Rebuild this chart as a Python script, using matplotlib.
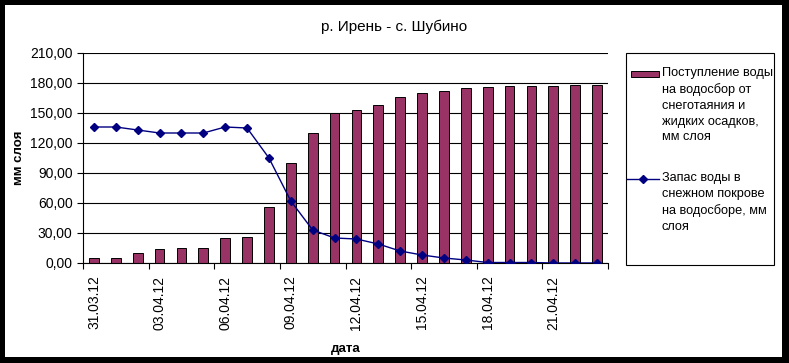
import matplotlib.pyplot as plt
from matplotlib.patches import Rectangle
from matplotlib.lines import Line2D
from matplotlib.ticker import FuncFormatter

# data
dates = ['31.03.12', '01.04.12', '02.04.12', '03.04.12', '04.04.12', '05.04.12',
         '06.04.12', '07.04.12', '08.04.12', '09.04.12', '10.04.12', '11.04.12',
         '12.04.12', '13.04.12', '14.04.12', '15.04.12', '16.04.12', '17.04.12',
         '18.04.12', '19.04.12', '20.04.12', '21.04.12', '22.04.12', '23.04.12']
inflow = [5, 5, 10, 14, 15, 15, 25, 26, 56, 100, 130, 150,
          153, 158, 166, 170, 172, 175, 176, 177, 177, 177, 178, 178]
snow = [136, 136, 133, 130, 130, 130, 136, 135, 105, 62, 33, 25,
        24, 19, 12, 8, 5, 3, 0.5, 0.5, 0.5, 0, 0, 0]

bar_color = '#993366'
line_color = '#000080'
plt.rcParams['font.family'] = ['Liberation Sans', 'DejaVu Sans']

W, H = 789, 363
fig = plt.figure(figsize=(W / 100, H / 100), dpi=100)
fig.patch.set_facecolor('black')
# white chart area inside the black frame
fig.patches.append(Rectangle((5 / W, 6 / H), 777 / W, 352 / H, transform=fig.transFigure,
                             facecolor='white', edgecolor='none', zorder=-10))

ax = fig.add_axes([83 / W, 1 - 263 / H, 525 / W, 210 / H])
ax.set_facecolor('white')
x = list(range(len(dates)))
ax.bar(x, inflow, width=0.45, color=bar_color, edgecolor='black', linewidth=0.7, zorder=2)
ax.plot(x, snow, color=line_color, lw=1, marker='D', markersize=4, zorder=3)

ax.set_xlim(-0.5, len(dates) - 0.5)
ax.set_ylim(0, 210)
ax.set_yticks(range(0, 211, 30))
ax.yaxis.set_major_formatter(FuncFormatter(lambda v, p: f'{v:.2f}'.replace('.', ',')))
ax.grid(axis='y', color='black', lw=0.8, zorder=1)

# boundaries as ticks, labels centered on every third date
ax.set_xticks([i - 0.5 for i in range(0, len(dates) + 1, 3)])
ax.set_xticklabels([])
ax.set_xticks(x[::3], minor=True)
ax.set_xticklabels(dates[::3], minor=True, rotation=90, fontsize=10)
ax.tick_params(axis='x', which='minor', length=0, pad=9)
ax.tick_params(axis='both', which='major', length=4, width=0.8, color='black', labelsize=10)
for s in ['top', 'right']:
    ax.spines[s].set_visible(False)
for s in ['left', 'bottom']:
    ax.spines[s].set_linewidth(0.8)

ax.set_ylabel('мм слоя', fontsize=9.5, fontweight='bold', labelpad=3.5)
ax.set_xlabel('дата', fontsize=9.5, fontweight='bold', labelpad=9.5)
fig.text(394 / W, 1 - 27 / H, 'р. Ирень - с. Шубино', ha='center', va='center', fontsize=11)

# legend box drawn by hand so the keys sit beside the first line
fig.patches.append(Rectangle((626 / W, 1 - 265 / H), 148 / W, 212 / H, transform=fig.transFigure,
                             facecolor='white', edgecolor='black', lw=0.8))
fig.patches.append(Rectangle((631 / W, 1 - 77 / H), 28 / W, 6 / H, transform=fig.transFigure,
                             facecolor=bar_color, edgecolor='black', lw=0.7))
fig.lines.append(Line2D([627 / W, 659 / W], [1 - 179 / H] * 2, transform=fig.transFigure,
                        color=line_color, lw=1))
fig.lines.append(Line2D([643 / W], [1 - 179 / H], transform=fig.transFigure,
                        color=line_color, marker='D', markersize=4, lw=0))
fig.text(662 / W, 1 - 67 / H, 'Поступление воды\nна водосбор от\nснеготаяния и\nжидких осадков,\nмм слоя',
         ha='left', va='top', fontsize=9.2, linespacing=1.42)
fig.text(662 / W, 1 - 172 / H, 'Запас воды в\nснежном покрове\nна водосборе, мм\nслоя',
         ha='left', va='top', fontsize=9.2, linespacing=1.42)

fig.savefig('out.png', dpi=100, facecolor=fig.get_facecolor())
